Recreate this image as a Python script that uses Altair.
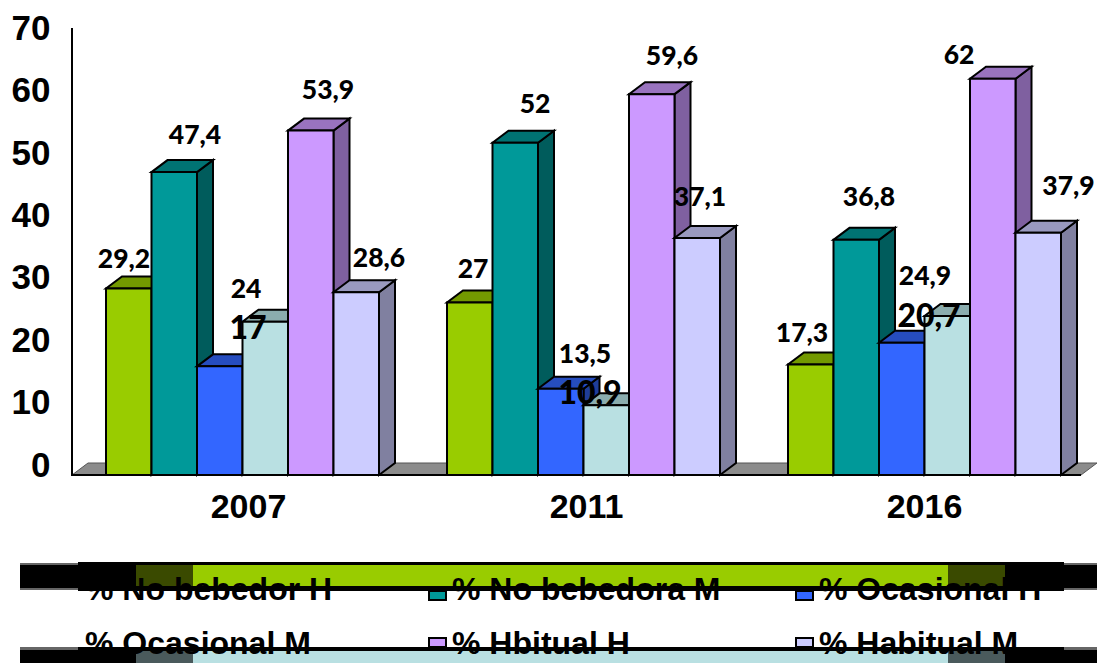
import altair as alt
import pandas as pd

years = ["2007", "2011", "2016"]
series = ["% No bebedor H", "% No bebedora M", "% Ocasional H", "% Ocasional M", "% Hbitual H", "% Habitual M"]
no_bebedor_h = [29.2, 27, 17.3]
no_bebedora_m = [47.4, 52, 36.8]
ocasional_h = [17, 13.5, 20.7]
ocasional_m = [24, 10.9, 24.9]
hbitual_h = [53.9, 59.6, 62]
habitual_m = [28.6, 37.1, 37.9]
values = [no_bebedor_h, no_bebedora_m, ocasional_h, ocasional_m, hbitual_h, habitual_m]
y_ticks = [0, 10, 20, 30, 40, 50, 60, 70]

front = ["#99cc00", "#009999", "#3366ff", "#b9e0e2", "#cc99ff", "#ccccff"]
top = ["#739900", "#007373", "#264dbf", "#8badae", "#9973bf", "#9999bf"]
side = ["#5c7a00", "#005c5c", "#1f3d99", "#6f8a8b", "#7f60a0", "#8080a0"]

# label nudges, in pixels
label_dx = [
    [18, 43.5, 51, 3.5, 40, 45.5],
    [26, 42.5, 47, 6.5, 43, 25.5],
    [14, 35.5, 50, 0.5, -11, 53],
]
label_px_y = [
    [260, 136, 329, 290, 91, 259],
    [270, 105, 355, 394, 57, 198],
    [334, 198, 317, 277, 56, 187],
]
big_labels = ["17", "10,9", "20,7"]

PX = 6.39
BASE = 475
DX, DY = 16, 12
BW = 45.5
GROUP0, GROUPW = 106, 341
W, H = 1089, 655
BOTTOM = 8 + H
RIGHT = 8 + W


def yv(px):
    return (BASE - px) / PX


x_scale = alt.Scale(domain=[8, RIGHT], range=[0, W], nice=False, zero=False)
y_scale = alt.Scale(domain=[yv(BOTTOM), yv(8)], range=[H, 0], nice=False, zero=False)
X = lambda f: alt.X(f, type="quantitative", scale=x_scale, axis=None)
Y = lambda f: alt.Y(f, type="quantitative", scale=y_scale, axis=None)


def area(points, fill, stroke="black", sw=2):
    df = pd.DataFrame(points, columns=["x", "y", "y2"])
    return alt.Chart(df).mark_area(fill=fill, stroke=stroke, strokeWidth=sw, strokeJoin="miter", orient="vertical", clip=True).encode(
        x=X("x"), y=Y("y"), y2="y2"
    )


def rect(x0, x1, y0, y1, fill, stroke=None, sw=2):
    y1 = min(y1, BOTTOM)
    x1 = min(x1, RIGHT)
    df = pd.DataFrame({"x": [x0], "x2": [x1], "y": [yv(y0)], "y2": [yv(y1)]})
    kw = dict(fill=fill)
    if stroke:
        kw.update(stroke=stroke, strokeWidth=sw)
    return alt.Chart(df).mark_rect(**kw).encode(x=X("x"), x2="x2", y=Y("y"), y2="y2")


d = DY / PX
layers = []

# floor
fl = 0
layers.append(area([(72, fl, fl), (72 + DX, fl, fl + d), (1081, fl, fl + d), (1097, fl + d, fl + d)], "#8c8c8c", "#555555", 1))

# bars
for g in range(3):
    for s in range(6):
        x0 = GROUP0 + GROUPW * g + BW * s
        x1 = x0 + BW
        v = values[s][g]
        layers.append(area([(x1, 0, v), (x1 + DX, d, v + d)], side[s]))
        layers.append(area([(x0, v, v), (x0 + DX, v, v + d), (x1, v, v + d), (x1 + DX, v + d, v + d)], top[s]))
        layers.append(rect(x0, x1, BASE - v * PX, BASE, front[s], "black"))

# axis lines
layers.append(rect(71, 73, 28, 476, "black"))
layers.append(rect(71, 1081, 474, 476, "black"))

# data labels
rows = []
for g in range(3):
    for s in range(6):
        v = values[s][g]
        text = f"{v:g}".replace(".", ",")
        x0 = GROUP0 + GROUPW * g + BW * s
        rows.append(dict(x=x0 + label_dx[g][s], y=yv(label_px_y[g][s]), t=text))
lab = pd.DataFrame(rows)
small = lab[~lab.t.isin(big_labels)]
big = lab[lab.t.isin(big_labels)]
layers.append(alt.Chart(small).mark_text(font="Lato", fontWeight=900, fontSize=26.5, color="black").encode(x=X("x"), y=Y("y"), text="t:N"))
layers.append(alt.Chart(big).mark_text(font="Lato", fontWeight=900, fontSize=32, color="black").encode(x=X("x"), y=Y("y"), text="t:N"))

# legend bands
layers.append(rect(20, 1105, 565, 588, "black"))
layers.append(rect(20, 78, 563, 565, "#666666"))
layers.append(rect(1064, 1105, 563, 565, "#666666"))
layers.append(rect(20, 78, 588, 590, "#666666"))
layers.append(rect(1064, 1105, 588, 590, "#666666"))
layers.append(rect(78, 1064, 562, 591, "black"))
layers.append(rect(136, 1005, 565, 586, "#3a4a00"))
layers.append(rect(193, 948, 565, 586, front[0]))

layers.append(rect(20, 1105, 650, 671, "black"))
layers.append(rect(20, 78, 647, 650, "#666666"))
layers.append(rect(1064, 1105, 647, 650, "#666666"))
layers.append(rect(78, 1064, 647, 671, "black"))
layers.append(rect(136, 1005, 651, 671, "#4a5a5c"))
layers.append(rect(193, 948, 651, 671, front[3]))

# legend keys and texts
for s, kx, ky in [(1, 428, 590), (2, 795, 590), (4, 428, 637), (5, 795, 637)]:
    layers.append(rect(kx, kx + 19, ky, ky + 11, "black"))
    layers.append(rect(kx + 2, kx + 17, ky + 2, ky + 9, front[s]))

legend_x = [85, 452, 819, 85, 452, 819]
legend_y = [590, 590, 590, 644, 644, 644]
leg = pd.DataFrame({"x": legend_x, "y": [yv(p) for p in legend_y], "t": series})
layers.append(alt.Chart(leg).mark_text(font="Liberation Sans", fontWeight="bold", fontSize=32, color="black", align="left", baseline="middle").encode(x=X("x"), y=Y("y"), text="t:N"))

main = alt.layer(*layers)

# axes
tick_df = pd.DataFrame({"v": y_ticks})
y_axis_layer = alt.Chart(tick_df).mark_point(opacity=0).encode(
    x=alt.value(0),
    y=alt.Y("v:Q", scale=alt.Scale(domain=[(465 - BOTTOM) / 6.24, (465 - 8) / 6.24], range=[H, 0], nice=False, zero=False),
            axis=alt.Axis(values=y_ticks, title=None, grid=False, domain=False, ticks=False, orient="left", offset=-42,
                          labelPadding=0, labelFont="Liberation Sans", labelFontWeight="bold", labelFontSize=35,
                          labelColor="black", labelOverlap=False, labelBound=False, labelFlush=False)),
)
year_df = pd.DataFrame({"year": years})
x_axis_layer = alt.Chart(year_df).mark_point(opacity=0).encode(
    y=alt.value(0),
    x=alt.X("year:N", scale=alt.Scale(type="point", domain=years, range=[240, 916], padding=0),
            axis=alt.Axis(title=None, grid=False, domain=False, ticks=False, orient="bottom", offset=-(BOTTOM - 490), labelAngle=0,
                          labelPadding=0, labelFont="Liberation Sans", labelFontWeight="bold", labelFontSize=34,
                          labelColor="black", labelOverlap=False)),
)

chart = (
    alt.layer(main, y_axis_layer, x_axis_layer)
    .resolve_scale(x="independent", y="independent")
    .properties(width=W, height=H, padding=0, autosize=alt.AutoSizeParams(type="none"), background="white")
    .configure_view(stroke=None)
)
chart.save("out.html", embed_options={"renderer": "svg", "actions": False})
